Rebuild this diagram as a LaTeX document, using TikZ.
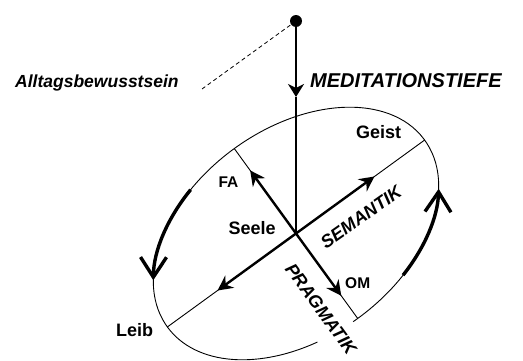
\documentclass[tikz,border=0pt]{standalone}
\usepackage{fontspec}
\setmainfont{Liberation Sans}
\usetikzlibrary{arrows.meta}
\begin{document}
\begin{tikzpicture}[x=1pt,y=1pt,
  thinline/.style={line width=0.9pt},
  axisarrow/.style={line width=2.4pt,-{Stealth[length=15pt,width=15pt,inset=5pt]}},
  turnarrow/.style={line width=3.4pt,-{Straight Barb[length=20pt,width=26pt]}},
  lbl/.style={font=\fontsize{18}{18}\selectfont\bfseries, inner sep=0pt},
  smalllbl/.style={font=\fontsize{15.5}{16}\selectfont\bfseries, inner sep=0pt},
  axislbl/.style={font=\fontsize{18}{18}\selectfont\bfseries\itshape, inner sep=0pt},
  toplbl/.style={font=\fontsize{20}{20}\selectfont\bfseries\itshape, inner sep=0pt},
  sidelbl/.style={font=\fontsize{17.5}{18}\selectfont\bfseries\itshape, inner sep=0pt}]
\useasboundingbox (0,0) rectangle (523,360);
\coordinate (C) at (296,126.5);
\node[circle,fill=black,inner sep=0pt,minimum size=12pt] (dot) at (296,339) {};
\coordinate (mid) at (296,263);
\coordinate (dashend) at (202,271);
\begin{scope}[shift={(C)},rotate=36]
  \coordinate (G) at (159,0);
  \coordinate (L) at (-159,0);
  \coordinate (F) at (0,105);
  \coordinate (O) at (0,-105);
  \coordinate (Ts) at (97,0);
  \coordinate (Tp) at (-97,0);
  \coordinate (Tf) at (0,78);
  \coordinate (To) at (0,-77);
  \draw[thinline] (-92:159pt and 105pt) arc[start angle=-92,end angle=253,x radius=159pt,y radius=105pt];
  \draw[turnarrow] (-67:159pt and 105pt) arc[start angle=-67,end angle=-27,x radius=159pt,y radius=105pt];
  \draw[turnarrow] (112:159pt and 105pt) arc[start angle=112,end angle=154,x radius=159pt,y radius=105pt];
\end{scope}
% thin axes
\draw[thinline] (L) -- (G);
\draw[thinline] (F) -- (O);
% dashed line
\draw[line width=0.8pt,dash pattern=on 4pt off 3pt] (dot.center) -- (dashend);
% vertical line
\draw[line width=2pt,-{Stealth[length=13pt,width=16pt,inset=4pt]}] (dot.center) -- (mid);
\draw[line width=2pt] (mid) -- (C);
% axis arrows
\draw[axisarrow] (C) -- (Ts);
\draw[axisarrow] (C) -- (Tp);
\draw[axisarrow] (C) -- (Tf);
\draw[axisarrow] (C) -- (To);
% labels
\node[sidelbl,anchor=base west] (alltag) at (15,272.7) {Alltagsbewusstsein};
\node[toplbl,anchor=base west] (medi) at (310,272.7) {MEDITATIONSTIEFE};
\node[lbl,anchor=base west] (geist) at (356,221.7) {Geist};
\node[lbl,anchor=base west] (seele) at (228.3,126) {Seele};
\node[lbl,anchor=base west] (leib) at (116,23.3) {Leib};
\node[smalllbl,anchor=base west] (fa) at (218.3,172.3) {FA};
\node[smalllbl,anchor=base west] (om) at (345,71.7) {OM};
\node[axislbl,rotate=35] (sem) at (361,143) {SEMANTIK};
\node[axislbl,rotate=-54] (prag) at (321,51) {PRAGMATIK};
\end{tikzpicture}
\end{document}
